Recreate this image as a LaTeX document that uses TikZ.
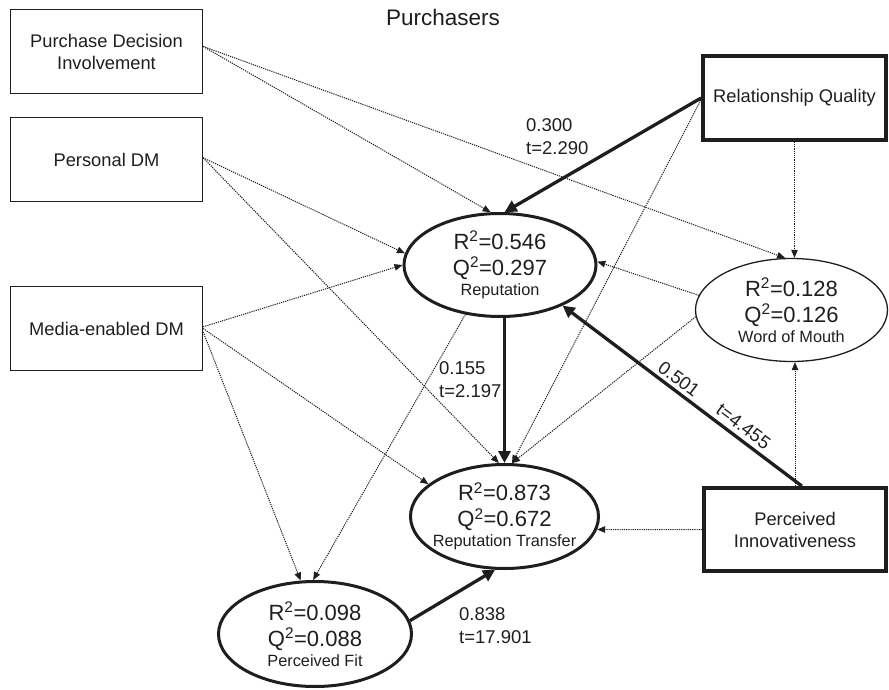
\documentclass[tikz,border=0pt]{standalone}
\usepackage{fontspec}
\setmainfont{Liberation Sans}
\usetikzlibrary{arrows.meta,shapes.geometric}

\definecolor{ink}{RGB}{30,30,30}

\begin{document}
\begin{tikzpicture}[x=1pt,y=-1pt,
  every node/.style={text=ink},
  box/.style={draw=ink, line width=1.3pt, rectangle, minimum width=192pt,
    minimum height=84pt, inner sep=0pt, align=center,
    font=\fontsize{18.3}{22}\selectfont},
  boldbox/.style={box, line width=3.8pt},
  construct/.style={draw=ink, ellipse, line width=3pt, inner xsep=-15pt,
    inner ysep=-10pt, align=center, font=\fontsize{22}{26}\selectfont},
  dotarrow/.style={draw=ink, line width=1pt, dash pattern=on 1.2pt off 1pt,
    -{Triangle[length=8pt,width=6.5pt]}},
  thickarrow/.style={draw=ink, line width=3.3pt,
    -{Triangle[length=12pt,width=12pt]}},
  lbl/.style={font=\fontsize{18.5}{23}\selectfont, align=left, inner sep=0pt,
    anchor=west},
  slopelbl/.style={font=\fontsize{18.5}{23}\selectfont, inner sep=0pt, rotate=-37}
]
\useasboundingbox (0,0) rectangle (889,690);

% heading
\node[font=\fontsize{22.5}{26}\selectfont] (title) at (443,17) {Purchasers};

% exogenous constructs
\node[box] (pdi) at (106.5,51.5) {Purchase Decision\\Involvement};
\node[box] (pd) at (106.5,159.5) {Personal DM};
\node[box] (med) at (106.5,328.5) {Media-enabled DM};
\node[boldbox, minimum width=183pt, minimum height=84pt] (rq) at (794.5,98) {Relationship Quality};
\node[boldbox, minimum width=182pt, minimum height=83pt] (pi) at (795,529.5) {Perceived\\Innovativeness};

% endogenous constructs
\newcommand\cnamefont{\fontsize{16.3}{19}\selectfont}
\node[construct, minimum width=192pt, minimum height=103pt] (rep) at (500,265)
  {R\textsuperscript{2}=0.546\\Q\textsuperscript{2}=0.297\\[-6pt]{\cnamefont Reputation}};
\node[construct, line width=1.3pt, minimum width=192pt, minimum height=103pt] (wom) at (791.5,310)
  {R\textsuperscript{2}=0.128\\Q\textsuperscript{2}=0.126\\[-6pt]{\cnamefont Word of Mouth}};
\node[construct, minimum width=188pt, minimum height=104pt] (rt) at (504.5,516.5)
  {R\textsuperscript{2}=0.873\\Q\textsuperscript{2}=0.672\\[-6pt]{\cnamefont Reputation Transfer}};
\node[construct, minimum width=193pt, minimum height=105pt] (pf) at (315,634)
  {R\textsuperscript{2}=0.098\\Q\textsuperscript{2}=0.088\\[-6pt]{\cnamefont Perceived Fit}};

% non-significant paths
\draw[dotarrow] (pdi.3) -- (rep.100);
\draw[dotarrow] (pdi.3) -- (wom.97);
\draw[dotarrow] (pd.1) -- (rep.173);
\draw[dotarrow] (pd.1) -- (rt.96);
\draw[dotarrow] (med.1) -- (rep.180);
\draw[dotarrow] (med.0) -- (rt.157);
\draw[dotarrow] (med.-2) -- (pf.105);
\draw[dotarrow] (rep.235) -- (pf.92);
\draw[dotarrow] (rq.181) -- (rt.82);
\draw[dotarrow] (rq.south) -- (rq.south |- wom.north);
\draw[dotarrow] (wom.171) -- (rep.2);
\draw[dotarrow] (wom.184) -- (rt.82);
\draw[dotarrow] (pi.north) -- (pi.north |- wom.south);
\draw[dotarrow] (pi.west) -- (rt.-8);

% significant paths
\draw[thickarrow] (rq.west) -- (rep.85);
\draw[thickarrow] (rt.north |- rep.south) -- (rt.north);
\draw[thickarrow] (pi.81) -- (rep.-33);
\draw[thickarrow] (pf.8) -- (rt.260);

% path coefficients
\node[lbl] (c1) at (526,136.5) {0.300\\t=2.290};
\node[lbl] (c2) at (439,379.5) {0.155\\t=2.197};
\node[lbl] (c3) at (459,626) {0.838\\t=17.901};
\node[slopelbl] (c4) at (679,379) {0.501};
\node[slopelbl] (c5) at (743.5,426.5) {t=4.455};
\end{tikzpicture}
\end{document}
